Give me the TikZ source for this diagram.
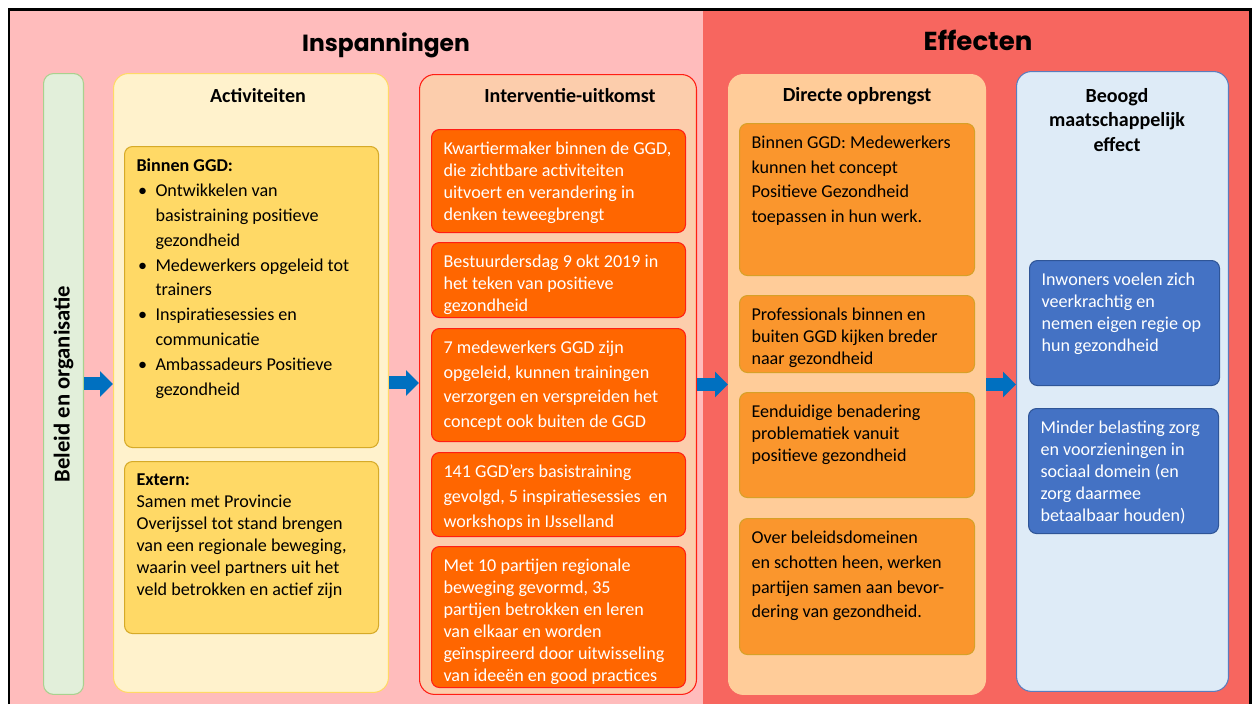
\documentclass[tikz,border=0pt]{standalone}
\usepackage{fontspec}
\setmainfont{Carlito}
\newfontfamily\headfont{Poppins}
\usetikzlibrary{arrows.meta}
\definecolor{rosebg}{RGB}{255, 188, 188}
\definecolor{coralbg}{RGB}{247, 102, 95}
\definecolor{mintfill}{RGB}{226, 239, 218}
\definecolor{mintline}{RGB}{169, 209, 142}
\definecolor{creamfill}{RGB}{255, 242, 204}
\definecolor{creamline}{RGB}{255, 217, 102}
\definecolor{goldfill}{RGB}{255, 217, 102}
\definecolor{goldline}{RGB}{214, 170, 40}
\definecolor{peachfill}{RGB}{252, 205, 172}
\definecolor{tangerine}{RGB}{255, 102, 0}
\definecolor{scarlet}{RGB}{255, 30, 20}
\definecolor{apricot}{RGB}{255, 204, 153}
\definecolor{amber}{RGB}{250, 150, 45}
\definecolor{amberline}{RGB}{215, 160, 40}
\definecolor{skyfill}{RGB}{222, 235, 247}
\definecolor{steelline}{RGB}{91, 125, 190}
\definecolor{royal}{RGB}{68, 114, 196}
\definecolor{royalline}{RGB}{47, 85, 151}
\definecolor{arrowblue}{RGB}{0, 112, 192}
% box body: width and height of the whole box in px, text on top
\newcommand{\cellbody}[3]{\parbox[c][\dimexpr 0.02cm*#2-0.48cm\relax][t]{\dimexpr 0.02cm*#1-0.48cm\relax}{\raggedright #3}}
\newcommand{\gbullet}[1]{\par\hangindent=0.38cm\hangafter=1\noindent\makebox[0.38cm][l]{\hspace{0.03cm}\textbullet}#1\par}

\begin{document}
\begin{tikzpicture}[x=0.02cm, y=-0.02cm,
    col/.style={draw, rounded corners=0.3cm, line width=0.6pt, anchor=north west, inner sep=0pt},
    cellbox/.style={draw, rounded corners=0.16cm, line width=0.6pt, anchor=north west, inner sep=0.24cm,
                    font=\fontsize{10.3}{12.6}\selectfont},
    wide/.style={font=\fontsize{10.3}{14.2}\selectfont},
    coltitle/.style={font=\fontsize{11.4}{13.9}\selectfont\bfseries, align=center},
    headtitle/.style={font=\headfont\bfseries\fontsize{13.3}{16}\selectfont},
    flow/.style={draw=arrowblue, line width=0.26cm, -{Triangle[length=0.26cm, width=0.5cm]}}]
    \useasboundingbox (0,0) rectangle (1253,704);
    % the two halves
    \fill[rosebg]  (9,9) rectangle (703,704);
    \fill[coralbg] (703,9) rectangle (1250,704);
    \draw[line width=0.06cm] (9,704) -- (9,9) -- (1250,9) -- (1250,704);
    \node[headtitle] (insp) at (386,45) {Inspanningen};
    \node[headtitle, font=\headfont\bfseries\fontsize{14.8}{16}\selectfont] (eff) at (978,40) {Effecten};

    % columns
    \node[col, rounded corners=0.2cm, draw=mintline, fill=mintfill, minimum width=0.8cm, minimum height=12.42cm] (bel) at (43,73) {};
    \node[rotate=90, font=\fontsize{12.9}{14}\selectfont\bfseries] (beltext) at (bel.center) {Beleid en organisatie};
    \node[col, draw=creamline, fill=creamfill, minimum width=5.5cm,  minimum height=12.38cm] (act) at (113,73) {};
    \node[col, draw=scarlet,   fill=peachfill, minimum width=5.54cm, minimum height=12.4cm]  (int) at (419,74) {};
    \node[col, draw=apricot,   fill=apricot,   minimum width=5.14cm, minimum height=12.4cm]  (dir) at (728,74) {};
    \node[col, draw=steelline, fill=skyfill,   minimum width=4.24cm, minimum height=12.4cm]  (beo) at (1016,71) {};

    \node[coltitle] (acttitle) at (258,96)  {Activiteiten};
    \node[coltitle] (inttitle) at (570,96)  {Interventie-uitkomst};
    \node[coltitle] (dirtitle) at (857,96)  {Directe opbrengst};
    \node[coltitle] (beotitle) at (1117,120) {Beoogd\\maatschappelijk\\effect};

    % Activiteiten
    \node[cellbox, wide, draw=goldline, fill=goldfill] (binnen) at (124,146) {\cellbody{254}{301}{%
        \textbf{Binnen GGD:}\par
        \gbullet{Ontwikkelen van\newline basistraining positieve\newline gezondheid}
        \gbullet{Medewerkers opgeleid tot\newline trainers}
        \gbullet{Inspiratiesessies en\newline communicatie}
        \gbullet{Ambassadeurs Positieve\newline gezondheid}}};
    \node[cellbox, draw=goldline, fill=goldfill] (extern) at (124,461) {\cellbody{254}{172}{%
        \textbf{Extern:}\\Samen met Provincie\\Overijssel tot stand brengen\\van een regionale beweging,\\waarin veel partners uit het\\veld betrokken en actief zijn}};

    % Interventie-uitkomst
    \node[cellbox, draw=scarlet, fill=tangerine, text=white] (kwart) at (431,129) {\cellbody{254}{103}{%
        Kwartiermaker binnen de GGD,\\die zichtbare activiteiten\\uitvoert en verandering in\\denken teweegbrengt}};
    \node[cellbox, draw=scarlet, fill=tangerine, text=white] (bestuur) at (431,242) {\cellbody{254}{75}{%
        Bestuurdersdag 9 okt 2019 in\\het teken van positieve\\gezondheid}};
    \node[cellbox, wide, draw=scarlet, fill=tangerine, text=white] (zeven) at (431,328) {\cellbody{254}{113}{%
        7 medewerkers GGD zijn\\opgeleid, kunnen trainingen\\verzorgen en verspreiden het\\concept ook buiten de GGD}};
    \node[cellbox, wide, draw=scarlet, fill=tangerine, text=white] (basis) at (431,452) {\cellbody{254}{84}{%
        141 GGD’ers basistraining\\gevolgd, 5 inspiratiesessies\ \ en\\workshops in IJsselland}};
    \node[cellbox, draw=scarlet, fill=tangerine, text=white] (partijen) at (431,546) {\cellbody{254}{141}{%
        Met 10 partijen regionale\\beweging gevormd, 35\\partijen betrokken en leren\\van elkaar en worden\\geïnspireerd door uitwisseling\\van ideeën en good practices}};

    % Directe opbrengst
    \node[cellbox, wide, draw=amberline, fill=amber] (medew) at (739,123) {\cellbody{235}{152}{%
        Binnen GGD: Medewerkers\\kunnen het concept\\Positieve Gezondheid\\toepassen in hun werk.}};
    \node[cellbox, draw=amberline, fill=amber] (prof) at (739,295) {\cellbody{235}{77}{%
        Professionals binnen en\\buiten GGD kijken breder\\naar gezondheid}};
    \node[cellbox, draw=amberline, fill=amber] (eend) at (739,392) {\cellbody{235}{105}{%
        Eenduidige benadering\\problematiek vanuit\\positieve gezondheid}};
    \node[cellbox, wide, draw=amberline, fill=amber] (schot) at (739,518) {\cellbody{235}{136}{%
        Over beleidsdomeinen\\en schotten heen, werken\\partijen samen aan bevor-\\dering van gezondheid.}};

    % Beoogd maatschappelijk effect
    \node[cellbox, draw=royalline, fill=royal, text=white] (inwon) at (1029,260) {\cellbody{190}{125}{%
        Inwoners voelen zich\\veerkrachtig en\\nemen eigen regie op\\hun gezondheid}};
    \node[cellbox, draw=royalline, fill=royal, text=white] (minder) at (1028,408) {\cellbody{190}{125}{%
        Minder belasting zorg\\en voorzieningen in\\sociaal domein (en\\zorg daarmee\\betaalbaar houden)}};

    % arrows
    \draw[flow] (bel.east) -- (bel.east -| act.west);
    \draw[flow] (act.east) -- (act.east -| int.west);
    \draw[flow] (int.east) -- (int.east -| dir.west);
    \draw[flow] (dir.east) -- (dir.east -| beo.west);
\end{tikzpicture}
\end{document}
